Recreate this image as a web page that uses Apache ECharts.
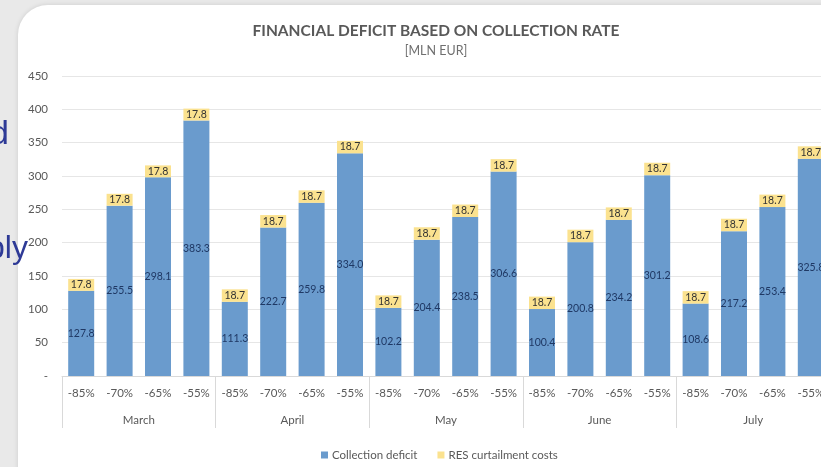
<!DOCTYPE html>
<html>
<head>
<meta charset="utf-8">
<script src="https://cdn.jsdelivr.net/npm/echarts@6/dist/echarts.min.js"></script>
<style>
html,body{margin:0;padding:0;width:821px;height:467px;overflow:hidden;background:#e9e9e9;}
#card{position:absolute;left:18px;top:5px;width:900px;height:500px;background:#fff;border-radius:30px;box-shadow:0 0 5px rgba(0,0,0,0.12);}
#chart{position:absolute;left:0;top:0;width:830px;height:467px;}
</style>
</head>
<body>
<div id="card"></div>
<div id="chart"></div>
<script>
const months = ['March', 'April', 'May', 'June', 'July'];
const categories = [
  '-85%', '-70%', '-65%', '-55%',
  '-85%', '-70%', '-65%', '-55%',
  '-85%', '-70%', '-65%', '-55%',
  '-85%', '-70%', '-65%', '-55%',
  '-85%', '-70%', '-65%', '-55%'
];
const collectionDeficit = [
  127.8, 255.5, 298.1, 383.3,
  111.3, 222.7, 259.8, 334.0,
  102.2, 204.4, 238.5, 306.6,
  100.4, 200.8, 234.2, 301.2,
  108.6, 217.2, 253.4, 325.8
];
const resCurtailment = [
  17.8, 17.8, 17.8, 17.8,
  18.7, 18.7, 18.7, 18.7,
  18.7, 18.7, 18.7, 18.7,
  18.7, 18.7, 18.7, 18.7,
  18.7, 18.7, 18.7, 18.7
];
const yTicks = { min: 0, max: 450, interval: 50 };

const chart = echarts.init(document.getElementById('chart'), null, { renderer: 'canvas' });
const FONT = 'Lato';
const option = {
  backgroundColor: 'transparent',
  animation: false,
  textStyle: { fontFamily: FONT },
  title: {
    text: 'FINANCIAL DEFICIT BASED ON COLLECTION RATE',
    subtext: '[MLN EUR]',
    left: 431,
    textAlign: 'center',
    top: 18,
    itemGap: 5,
    textStyle: { fontFamily: FONT, fontSize: 15.5, fontWeight: 'bold', color: '#595959' },
    subtextStyle: { fontFamily: FONT, fontSize: 12.5, color: '#6f6f6f' }
  },
  legend: {
    left: 316,
    top: 444,
    icon: 'rect',
    itemWidth: 7,
    itemHeight: 7,
    itemGap: 20,
    textStyle: { fontFamily: FONT, fontSize: 11.5, color: '#595959', padding: [0, 0, 0, -1] },
    data: ['Collection deficit', 'RES curtailment costs']
  },
  grid: { left: 62, right: 0, top: 76, bottom: 91, containLabel: false },
  xAxis: [
    {
      type: 'category',
      data: categories,
      position: 'bottom',
      axisLine: { lineStyle: { color: '#d9d9d9' } },
      axisTick: { show: false },
      axisLabel: { interval: 0, margin: 11, color: '#595959', fontSize: 11.5, fontFamily: FONT }
    },
    {
      type: 'category',
      data: months,
      position: 'bottom',
      axisLine: { show: false },
      axisTick: { show: true, length: 52, interval: 0, lineStyle: { color: '#d9d9d9' } },
      axisLabel: { interval: 0, margin: 38, color: '#595959', fontSize: 11.5, fontFamily: FONT }
    }
  ],
  yAxis: {
    type: 'value',
    min: yTicks.min,
    max: yTicks.max,
    interval: yTicks.interval,
    axisLine: { show: false },
    axisTick: { show: false },
    splitLine: { lineStyle: { color: '#e6e6e6' } },
    axisLabel: {
      margin: 14,
      color: '#595959',
      fontSize: 11.5,
      fontFamily: FONT,
      formatter: v => (v === 0 ? '-' : String(v))
    }
  },
  series: [
    {
      name: 'Collection deficit',
      type: 'bar',
      stack: 'total',
      barWidth: 26,
      data: collectionDeficit,
      itemStyle: { color: '#6a9bcd' },
      label: {
        show: true,
        position: 'inside',
        color: '#1f3864',
        fontSize: 10.5,
        fontFamily: FONT,
        formatter: p => p.value.toFixed(1)
      }
    },
    {
      name: 'RES curtailment costs',
      type: 'bar',
      stack: 'total',
      barWidth: 26,
      data: resCurtailment,
      itemStyle: { color: '#fbe28f' },
      label: {
        show: true,
        position: 'inside',
        color: '#333333',
        fontSize: 10.5,
        fontFamily: FONT,
        formatter: p => p.value.toFixed(1)
      }
    }
  ],
  graphic: [
    {
      type: 'text', left: -10, top: 118, z: 100,
      style: { text: 'd', fontSize: 34, fontFamily: 'Liberation Sans', fill: '#2e3a96' }
    },
    {
      type: 'text', left: -13, top: 233, z: 100,
      style: { text: 'ply', fontSize: 32, fontFamily: 'Liberation Sans', fill: '#2e3a96' }
    }
  ]
};
chart.setOption(option);
</script>
</body>
</html>
